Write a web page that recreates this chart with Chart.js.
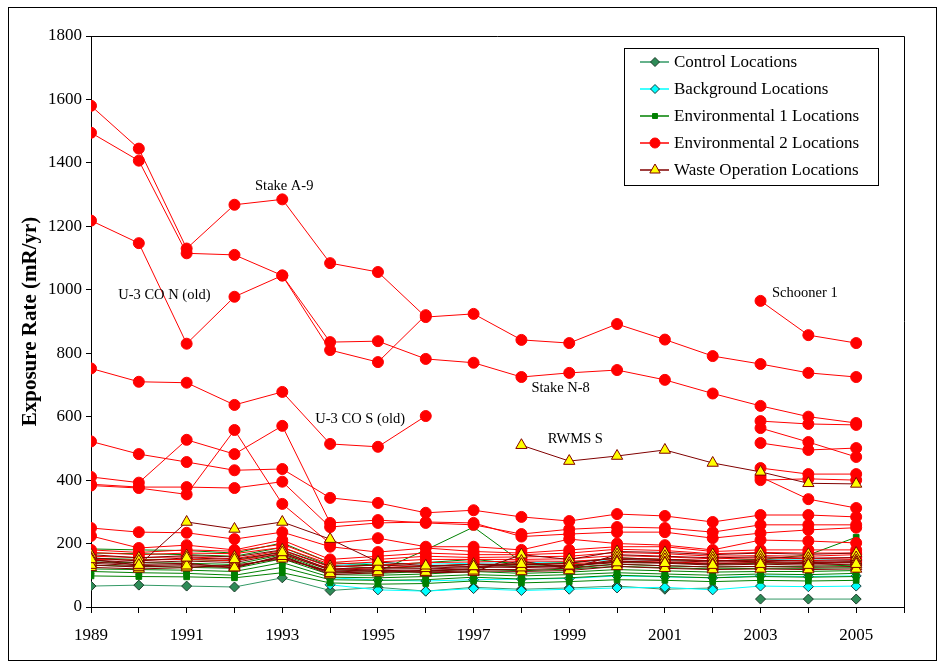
<!DOCTYPE html>
<html>
<head>
<meta charset="utf-8">
<script src="https://cdn.jsdelivr.net/npm/chart.js@4/dist/chart.umd.min.js"></script>
<style>
  body { margin: 0; background: #fff; }
  #wrap { position: relative; width: 945px; height: 665px; }
</style>
</head>
<body>
<div id="wrap"><canvas id="myChart" width="945" height="665"></canvas></div>
<script>
const years = [1989, 1990, 1991, 1992, 1993, 1994, 1995, 1996, 1997, 1998, 1999, 2000, 2001, 2002, 2003, 2004, 2005];
const yTicks = [0, 200, 400, 600, 800, 1000, 1200, 1400, 1600, 1800];

// Control locations
const control1 = [66, 69, 66, 63, 92, 52, 62, 50, 62, 56, 60, 66, 56, 60, null, null, null];
const control2 = [null, null, null, null, null, null, null, null, null, null, null, null, null, null, 25, 25, 25];

// Background locations
const background1 = [null, null, null, null, null, 70, 54, 50, 58, 52, 56, 60, 62, 54, 66, 64, 66];
const background2 = [null, null, null, null, null, 92, 85, 82, 86, 88, 90, 98, 95, 92, 98, 96, 98];
const background3 = [null, null, null, null, null, 130, 140, 135, 138, 140, 142, 150, 148, 145, 150, 148, 150];

// Environmental 1 locations
const env1a = [183, 180, 178, 170, 202, 140, 132, 140, 150, 135, 140, 155, 150, 145, 150, 164, 220];
const env1b = [170, 168, 165, 160, 188, 130, 122, 128, 135, 128, 132, 142, 140, 134, 138, 138, 142];
const env1c = [154, 150, 150, 145, 175, 118, 112, 180, 252, 142, 125, 135, 130, 126, 128, 128, 132];
const env1d = [132, 128, 125, 122, 152, 102, 100, 104, 112, 106, 110, 118, 114, 110, 112, 112, 115];
const env1e = [112, 108, 106, 100, 125, 86, 84, 86, 94, 88, 92, 100, 96, 92, 96, 94, 96];
const env1f = [98, 96, 95, 92, 108, 76, 72, 74, 82, 76, 80, 86, 84, 80, 84, 82, 84];
const env1g = [120, 118, 116, 112, 140, 94, 92, 96, 102, 98, 102, 108, 104, 100, 104, 102, 106];
const env1h = [142, 140, 138, 134, 165, 110, 106, 112, 120, 114, 120, 128, 124, 120, 122, 122, 124];

// Environmental 2 locations
const env2a = [1580, 1445, 1130, 1268, 1285, 1084, 1056, 914, 924, 842, 832, 892, 843, 791, 766, 738, 725];
const env2b = [1495, 1407, 1115, 1110, 1045, 835, 838, 782, 770, 725, 738, 747, 716, 673, 634, 600, 580];
const env2c = [1218, 1147, 830, 978, 1045, 810, 772, 920, null, null, null, null, null, null, null, null, null];
const env2d = [752, 710, 707, 637, 678, 514, 505, 602, null, null, null, null, null, null, null, null, null];
const env2e = [null, null, null, null, null, null, null, null, null, null, null, null, null, null, 965, 857, 832];
const env2f = [null, null, null, null, null, null, null, null, null, null, null, null, null, null, 586, 577, 574];
const env2g = [null, null, null, null, null, null, null, null, null, null, null, null, null, null, 564, 520, 473];
const env2h = [null, null, null, null, null, null, null, null, null, null, null, null, null, null, 517, 495, 501];
const env2i = [null, null, null, null, null, null, null, null, null, null, null, null, null, null, 438, 419, 419];
const env2j = [null, null, null, null, null, null, null, null, null, null, null, null, null, null, 410, 340, 312];
const env2k = [null, null, null, null, null, null, null, null, null, null, null, null, null, null, 400, 404, 400];
const env2l = [522, 482, 457, 431, 435, 344, 328, 297, 305, 284, 271, 293, 287, 268, 290, 290, 284];
const env2m = [410, 392, 527, 482, 571, 265, 274, 265, 259, 230, 245, 252, 249, 236, 259, 259, 259];
const env2n = [387, 378, 378, 375, 395, 252, 265, 268, 265, 222, 230, 236, 236, 217, 233, 243, 250];
const env2o = [383, 375, 355, 558, 325, 200, 217, 190, 190, 180, 214, 200, 195, 180, 211, 208, 202];
const env2p = [249, 236, 234, 214, 236, 190, 173, 186, 175, 170, 180, 190, 190, 175, 180, 180, 180];
const env2q = [224, 186, 195, 180, 211, 150, 160, 170, 165, 165, 170, 182, 178, 168, 172, 170, 170];
const env2r = [180, 172, 180, 176, 198, 140, 150, 160, 156, 158, 160, 172, 168, 160, 162, 160, 165];
const env2s = [172, 165, 170, 168, 188, 135, 142, 150, 150, 150, 152, 162, 158, 152, 155, 152, 155];
const env2t = [160, 156, 158, 152, 178, 126, 132, 140, 142, 145, 144, 152, 150, 146, 148, 146, 150];
const env2u = [150, 148, 150, 146, 168, 118, 124, 130, 134, 136, 136, 144, 142, 138, 140, 138, 142];

// Waste operation locations
const waste1 = [150, 132, 268, 246, 268, 214, 142, 130, 128, 135, 130, 140, 138, 132, 135, 132, 135];
const waste2 = [null, null, null, null, null, null, null, null, null, 510, 460, 476, 495, 454, 426, 390, 388];
const waste3 = [155, 145, 155, 150, 172, 120, 125, 122, 128, 124, 128, 145, 140, 136, 140, 136, 140];
const waste4 = [132, 126, 130, 124, 160, 106, 112, 110, 114, 112, 115, 128, 122, 118, 120, 118, 120];
const waste5 = [165, 155, 162, 158, 180, 128, 132, 128, 135, 132, 138, 155, 150, 146, 148, 144, 146];
const waste6 = [142, 134, 138, 124, 162, 102, 108, 116, 120, 145, 120, 165, 160, 155, 158, 154, 156];
const waste7 = [125, 120, 124, 132, 152, 112, 118, 108, 110, 165, 150, 175, 172, 165, 170, 166, 170];
const waste8 = [138, 130, 134, 128, 156, 110, 115, 114, 118, 118, 122, 135, 130, 126, 128, 125, 128];
const waste9 = [148, 140, 145, 140, 168, 116, 120, 120, 124, 128, 126, 150, 146, 142, 144, 140, 143];

// site names written next to their lines
const notes = [
  { text: 'Stake A-9', x: 1992.43, y: 1327 },
  { text: 'U-3 CO N (old)', x: 1989.57, y: 983 },
  { text: 'U-3 CO S (old)', x: 1993.69, y: 593 },
  { text: 'Stake N-8', x: 1998.21, y: 690 },
  { text: 'RWMS S', x: 1998.55, y: 530 },
  { text: 'Schooner 1', x: 2003.24, y: 990 },
];

const groups = [
  { label: 'Control Locations', series: [control1, control2], order: 4,
    line: '#339966', fill: '#2E8B57', edge: '#1b3d2a', pointStyle: 'rectRot', radius: 5 },
  { label: 'Background Locations', series: [background1, background2, background3], order: 3,
    line: '#00FFFF', fill: '#00FFFF', edge: '#1b3d3d', pointStyle: 'rectRot', radius: 5 },
  { label: 'Environmental 1 Locations', series: [env1a, env1b, env1c, env1d, env1e, env1f, env1g, env1h], order: 2,
    line: '#008000', fill: '#008000', edge: '#008000', pointStyle: 'rect', radius: 4 },
  { label: 'Environmental 2 Locations', series: [env2a, env2b, env2c, env2d, env2e, env2f, env2g, env2h, env2i, env2j, env2k,
    env2l, env2m, env2n, env2o, env2p, env2q, env2r, env2s, env2t, env2u], order: 1,
    line: '#FF0000', fill: '#FF0000', edge: '#FF0000', pointStyle: 'circle', radius: 5.5 },
  { label: 'Waste Operation Locations', series: [waste1, waste2, waste3, waste4, waste5, waste6, waste7, waste8, waste9], order: 0,
    line: '#800000', fill: '#FFFF00', edge: '#800000', pointStyle: 'triangle', radius: 6.5 },
];

const SERIF = "'Liberation Serif', 'DejaVu Serif', serif";

const datasets = [];
groups.forEach(g => {
  g.series.forEach(vals => {
    datasets.push({
      label: g.label,
      data: years.map((yr, i) => ({ x: yr, y: vals[i] })),
      order: g.order,
      borderColor: g.line,
      borderWidth: 1,
      backgroundColor: g.fill,
      pointStyle: g.pointStyle,
      pointRadius: g.radius,
      pointBackgroundColor: g.fill,
      pointBorderColor: g.edge,
      pointBorderWidth: 1,
      tension: 0,
      spanGaps: false,
    });
  });
});

const framePlugin = {
  id: 'frame',
  afterDraw(chart) {
    const { ctx, chartArea: a } = chart;
    ctx.save();
    ctx.strokeStyle = '#000';
    ctx.lineWidth = 1;
    ctx.beginPath();
    ctx.moveTo(a.left, a.top + 0.5);
    ctx.lineTo(a.right + 0.5, a.top + 0.5);
    ctx.lineTo(a.right + 0.5, a.bottom);
    ctx.stroke();
    // frame round the whole figure
    ctx.strokeRect(8.5, 7.5, 928, 653);
    ctx.restore();
  }
};

const notesPlugin = {
  id: 'notes',
  afterDatasetsDraw(chart) {
    const { ctx, scales } = chart;
    ctx.save();
    ctx.font = '14.5px ' + SERIF;
    ctx.fillStyle = '#000';
    ctx.textAlign = 'left';
    ctx.textBaseline = 'middle';
    notes.forEach(n => {
      ctx.fillText(n.text, scales.x.getPixelForValue(n.x), scales.y.getPixelForValue(n.y));
    });
    ctx.restore();
  }
};

const keyPlugin = {
  id: 'keyBox',
  afterDraw(chart) {
    const { ctx } = chart;
    const left = 624, top = 48, w = 254, h = 137;
    ctx.save();
    ctx.fillStyle = '#fff';
    ctx.fillRect(left, top, w, h);
    ctx.strokeStyle = '#000';
    ctx.lineWidth = 1;
    ctx.strokeRect(left + 0.5, top + 0.5, w, h);
    ctx.font = '17px ' + SERIF;
    ctx.textAlign = 'left';
    ctx.textBaseline = 'middle';
    groups.forEach((g, i) => {
      const y = top + 14 + i * 27;
      ctx.strokeStyle = g.line;
      ctx.lineWidth = 1.5;
      ctx.beginPath();
      ctx.moveTo(640, y);
      ctx.lineTo(669, y);
      ctx.stroke();
      ctx.fillStyle = g.fill;
      ctx.strokeStyle = g.edge;
      ctx.lineWidth = 1;
      Chart.helpers.drawPoint(ctx, { pointStyle: g.pointStyle, radius: g.radius - 0.5, rotation: 0, borderWidth: 1 }, 655, y);
      ctx.fillStyle = '#000';
      ctx.fillText(g.label, 674, y + 1);
    });
    ctx.restore();
  }
};

new Chart(document.getElementById('myChart'), {
  type: 'line',
  data: { datasets },
  plugins: [framePlugin, notesPlugin, keyPlugin],
  options: {
    responsive: false,
    animation: false,
    layout: { padding: { top: 36, right: 41, left: 0, bottom: 0 } },
    plugins: { legend: { display: false }, tooltip: { enabled: false } },
    scales: {
      x: {
        type: 'linear',
        min: 1989,
        max: 2006,
        afterFit(scale) { scale.height = 58; },
        border: { color: '#000', width: 1 },
        grid: { drawOnChartArea: false, drawTicks: true, tickLength: 6, color: '#000' },
        ticks: {
          stepSize: 1,
          autoSkip: false,
          maxRotation: 0,
          padding: 12,
          color: '#000',
          font: { family: SERIF, size: 17 },
          callback: v => (v % 2 === 1 && v <= 2005) ? String(v) : '',
        },
      },
      y: {
        min: 0,
        max: 1800,
        afterFit(scale) { scale.width = 91; },
        afterBuildTicks(scale) { scale.ticks = yTicks.map(v => ({ value: v })); },
        border: { color: '#000', width: 1 },
        grid: { drawOnChartArea: false, drawTicks: true, tickLength: 5, color: '#000' },
        ticks: { padding: 4, color: '#000', font: { family: SERIF, size: 17 }, callback: v => String(v) },
        title: {
          display: true,
          text: 'Exposure Rate (mR/yr)',
          color: '#000',
          font: { family: SERIF, size: 21, weight: 'bold' },
          padding: { top: 18, bottom: 0 },
        },
      },
    },
  },
});
</script>
</body>
</html>
